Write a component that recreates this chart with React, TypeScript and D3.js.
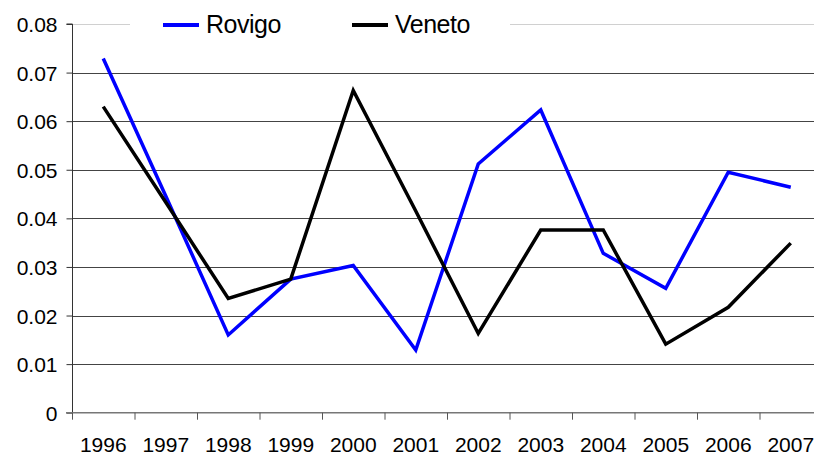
import React, { useEffect, useRef } from 'react'
import * as d3 from 'd3'

const years = ['1996', '1997', '1998', '1999', '2000', '2001', '2002', '2003', '2004', '2005', '2006', '2007']
const rovigo = [0.0729, 0.0446, 0.016, 0.0275, 0.0303, 0.0129, 0.0512, 0.0623, 0.0328, 0.0256, 0.0495, 0.0464]
const veneto = [0.063, 0.0433, 0.0235, 0.0275, 0.0663, 0.0415, 0.0163, 0.0376, 0.0376, 0.0141, 0.0217, 0.0349]
const yTicks = [0, 0.01, 0.02, 0.03, 0.04, 0.05, 0.06, 0.07, 0.08]

const App = () => {
  const svgRef = useRef<SVGSVGElement>(null)

  useEffect(() => {
    const width = 814
    const height = 455
    const font = '"Liberation Sans", Arial, sans-serif'

    const svg = d3.select(svgRef.current).attr('width', width).attr('height', height)
    svg.selectAll('*').remove()

    // scales: the plot area runs a bit past the right edge, like the original
    const x = d3.scaleBand().domain(years).range([72, 822])
    const y = d3.scaleLinear().domain([0, 0.08]).range([412.7, 24])

    // gridlines
    svg
      .append('g')
      .selectAll('line')
      .data(yTicks.slice(1))
      .join('line')
      .attr('x1', 72)
      .attr('x2', 822)
      .attr('y1', (d) => Math.round(y(d)) + 0.5)
      .attr('y2', (d) => Math.round(y(d)) + 0.5)
      .attr('stroke', (d) => (d === 0.08 ? '#d0d0d0' : '#444'))
      .attr('stroke-width', 1)

    // y axis
    const yAxis = d3
      .axisLeft(y)
      .tickValues(yTicks)
      .tickSize(6)
      .tickPadding(9)
      .tickFormat((d) => (d === 0 ? '0' : d3.format('.2f')(d as number)))
    const gy = svg.append('g').attr('transform', 'translate(72.5,0)').call(yAxis)
    gy.select('.domain').attr('stroke', '#333').attr('d', `M-6,${y(0.08)}H0V${y(0)}`)
    gy.selectAll('.tick line').attr('stroke', '#333')
    gy.selectAll('.tick text')
      .attr('font-family', font)
      .attr('font-size', 21)
      .attr('fill', '#000')
      .attr('dy', '0.36em')

    // x axis
    const xAxis = d3.axisBottom(x).tickSize(0).tickPadding(0)
    const gx = svg.append('g').attr('transform', `translate(0,${y(0)})`).call(xAxis)
    gx.select('.domain').attr('stroke', '#777').attr('stroke-width', 1.5).attr('d', 'M66,0H822')
    gx.selectAll('.tick text')
      .attr('font-family', font)
      .attr('font-size', 21)
      .attr('fill', '#000')
      .attr('y', 39)
      .attr('dy', null)
    gx.append('g')
      .selectAll('line')
      .data(years)
      .join('line')
      .attr('x1', (d) => x(d)! + 0.5)
      .attr('x2', (d) => x(d)! + 0.5)
      .attr('y1', 0)
      .attr('y2', 7)
      .attr('stroke', '#555')

    // lines
    const line = d3
      .line<number>()
      .x((_, i) => x(years[i])! + x.bandwidth() / 2)
      .y((d) => y(d))

    const series = [
      { name: 'Rovigo', values: rovigo, color: '#0000ff' },
      { name: 'Veneto', values: veneto, color: '#000000' },
    ]

    series.forEach((s) => {
      svg
        .append('path')
        .datum(s.values)
        .attr('d', line)
        .attr('fill', 'none')
        .attr('stroke', s.color)
        .attr('stroke-width', 3.5)
        .attr('stroke-linejoin', 'miter')
    })

    // legend
    const legend = svg.append('g')
    legend.append('rect').attr('x', 130).attr('y', 8).attr('width', 380).attr('height', 34).attr('fill', '#fff')
    const legendX = [163, 352]
    series.forEach((s, i) => {
      legend
        .append('line')
        .attr('x1', legendX[i])
        .attr('x2', legendX[i] + 36)
        .attr('y1', 25)
        .attr('y2', 25)
        .attr('stroke', s.color)
        .attr('stroke-width', 4)
      legend
        .append('text')
        .attr('x', legendX[i] + 43)
        .attr('y', 33)
        .attr('font-family', font)
        .attr('font-size', 25)
        .attr('letter-spacing', -0.5)
        .text(s.name)
    })
  }, [])

  return <svg ref={svgRef} style={{ position: 'absolute', left: 0, top: 0 }}></svg>
}

export default App
